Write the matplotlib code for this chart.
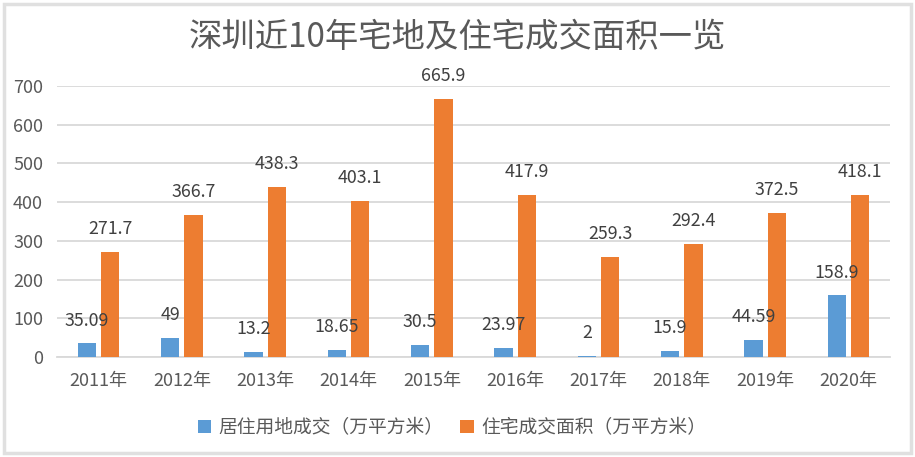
import numpy as np
import matplotlib
matplotlib.use("Agg")
import matplotlib.pyplot as plt
from matplotlib.patches import Rectangle

plt.rcParams['font.family'] = ['Noto Sans CJK SC', 'DejaVu Sans']

# data
years = ["2011年", "2012年", "2013年", "2014年", "2015年",
         "2016年", "2017年", "2018年", "2019年", "2020年"]
land = [35.09, 49, 13.2, 18.65, 30.5, 23.97, 2, 15.9, 44.59, 158.9]
land_labels = ["35.09", "49", "13.2", "18.65", "30.5", "23.97", "2", "15.9", "44.59", "158.9"]
housing = [271.7, 366.7, 438.3, 403.1, 665.9, 417.9, 259.3, 292.4, 372.5, 418.1]
housing_labels = ["271.7", "366.7", "438.3", "403.1", "665.9", "417.9", "259.3", "292.4", "372.5", "418.1"]

blue = "#5B9BD5"
orange = "#ED7D31"
text_c = "#595959"

fig = plt.figure(figsize=(9.15, 4.57), dpi=100)
ax = fig.add_axes([0.0623, 0.2188, 0.9104, 0.593])

x = np.arange(len(years))
w = 0.22
off = 0.14
b1 = ax.bar(x - off, land, w, color=blue, label="居住用地成交（万平方米）", zorder=3)
b2 = ax.bar(x + off, housing, w, color=orange, label="住宅成交面积（万平方米）", zorder=3)

# data labels above bars
for xi, v, s in zip(x, land, land_labels):
    ax.annotate(s, (xi - off, v), xytext=(0, 16.5), textcoords="offset points",
                ha="center", va="center", fontsize=12.8, color="#404040", clip_on=False)
for xi, v, s in zip(x, housing, housing_labels):
    ax.annotate(s, (xi + off, v), xytext=(0, 16.5), textcoords="offset points",
                ha="center", va="center", fontsize=12.8, color="#404040", clip_on=False)

ax.set_xlim(-0.5, len(years) - 0.5)
ax.set_ylim(0, 700)
ax.set_yticks(range(0, 701, 100))
ax.set_xticks(x)
ax.set_xticklabels(years)
ax.tick_params(axis="both", length=0, colors=text_c)
ax.tick_params(axis="x", pad=11, labelsize=13)
ax.tick_params(axis="y", pad=10, labelsize=13)
ax.grid(axis="y", color="#D9D9D9", linewidth=1.3, zorder=0)
for sp in ["top", "right", "left"]:
    ax.spines[sp].set_visible(False)
ax.spines["bottom"].set_color("#D9D9D9")
ax.spines["bottom"].set_linewidth(1.3)

fig.text(0.5, 0.918, "深圳近10年宅地及住宅成交面积一览", ha="center", va="center",
         fontsize=24, color=text_c)

leg = fig.legend(handles=[b1, b2], loc="center", bbox_to_anchor=(0.494, 0.064), ncol=2,
                 frameon=False, fontsize=13.5, handlelength=0.7, handleheight=0.7,
                 handletextpad=0.4, columnspacing=0.9)
for t in leg.get_texts():
    t.set_color(text_c)

# light gray frame around the picture
fig.patches.append(Rectangle((0.004, 0.008), 0.992, 0.984, transform=fig.transFigure,
                             fill=False, edgecolor="#E0E0E0", linewidth=2.5))

fig.savefig("out.png", dpi=100)
